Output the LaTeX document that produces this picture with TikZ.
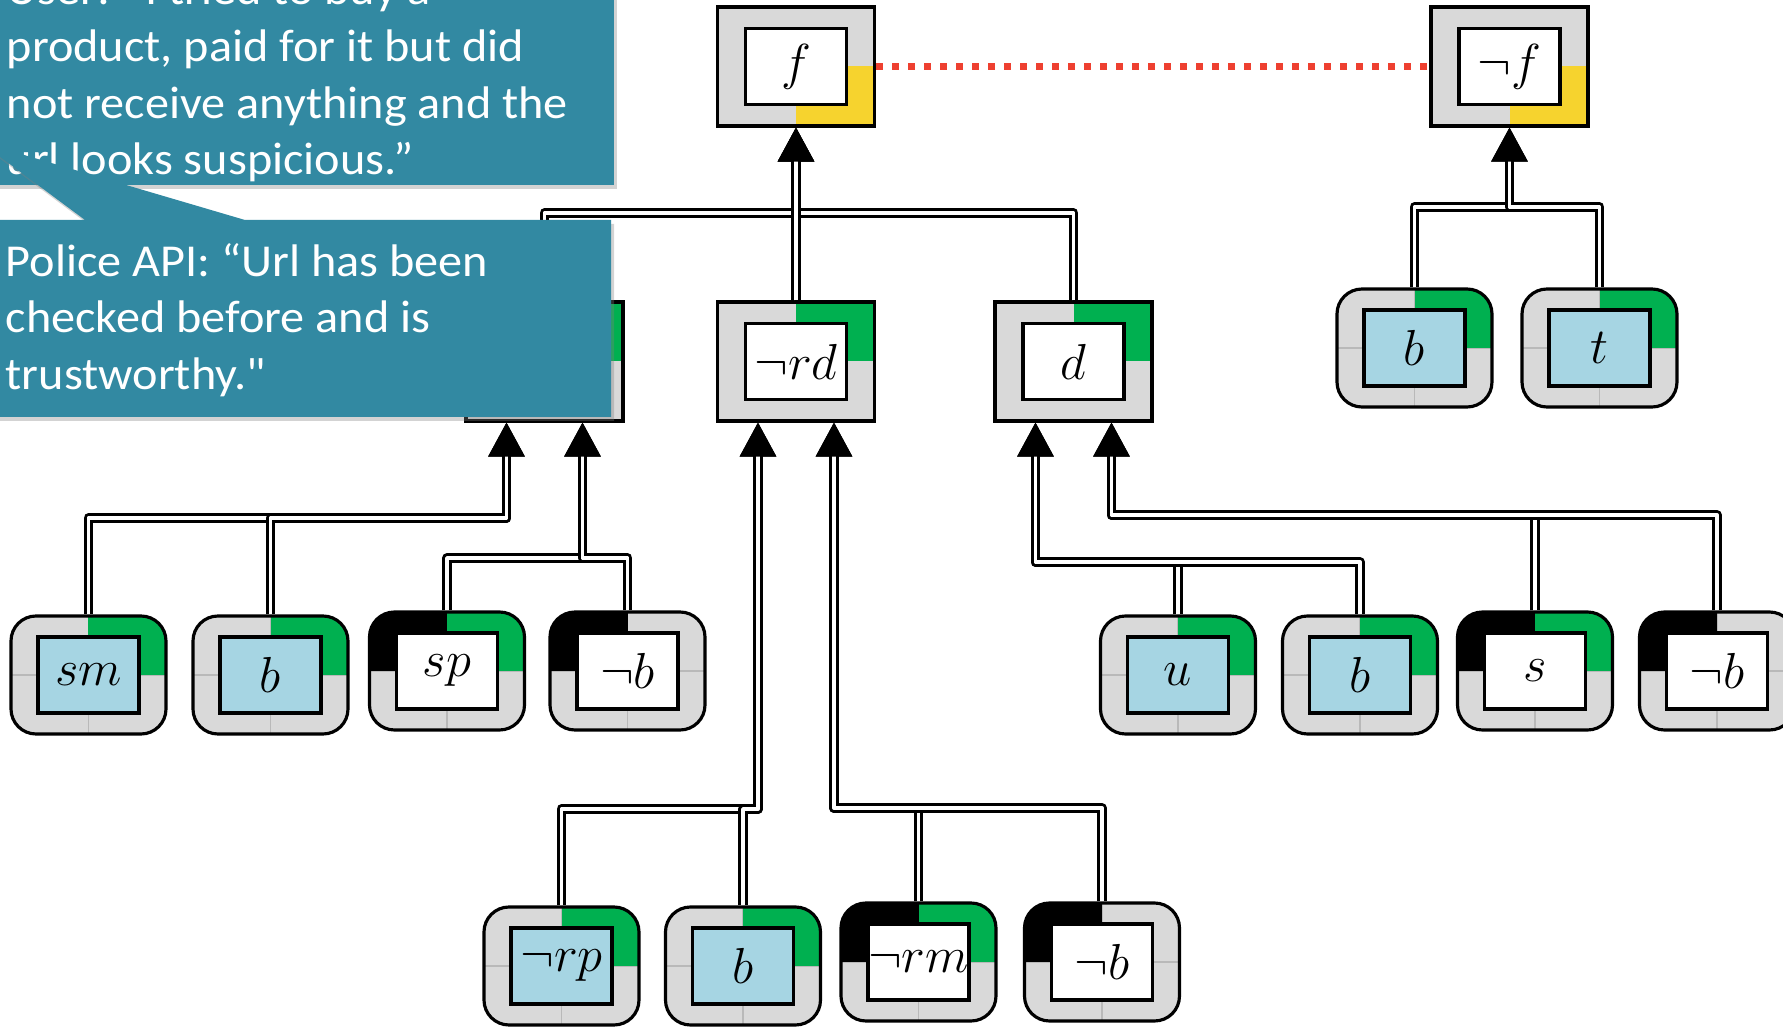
\documentclass[tikz,border=0pt]{standalone}
\usepackage{fontspec}
\newfontfamily\callfont{Carlito}[FakeStretch=1.056]
\usetikzlibrary{arrows.meta,shadows}

\definecolor{boxgray}{RGB}{217,217,217}
\definecolor{okgreen}{RGB}{0,176,80}
\definecolor{warnyellow}{RGB}{246,211,46}
\definecolor{leafblue}{RGB}{166,213,227}
\definecolor{calloutteal}{RGB}{50,137,162}
\definecolor{clashred}{RGB}{238,64,48}

\tikzset{
  sepline/.style={draw=none},
  frame/.style={draw=black, line width=0.9pt, fill=boxgray, inner sep=0pt,
    minimum width=1.57cm, minimum height=1.19cm},
  leafframe/.style={frame, rounded corners=0.25cm, minimum width=1.55cm, minimum height=1.18cm,
    sepline/.style={gray!55, line width=0.3pt}},
  quads/.style n args={3}{path picture={
      \draw[sepline, sharp corners] (path picture bounding box.north) -- (path picture bounding box.south)
        (path picture bounding box.west) -- (path picture bounding box.east);
      \path[fill=#1, sharp corners] (path picture bounding box.center) rectangle (path picture bounding box.north west);
      \path[fill=#2, sharp corners] (path picture bounding box.center) rectangle (path picture bounding box.north east);
      \path[fill=#3, sharp corners] (path picture bounding box.center) rectangle (path picture bounding box.south east);}},
  inbox/.style={draw=black, line width=0.9pt, fill=white, inner sep=0pt,
    minimum width=1.01cm, minimum height=0.76cm, font=\fontsize{14.4}{17}\selectfont},
  leafin/.style={inbox, fill=leafblue},
  link/.style={draw=black, line width=0.85pt, double=white, double distance=1.1pt,
    line join=round, -{Triangle[width=0.36cm,length=0.34cm]}},
  clash/.style={draw=clashred, line width=0.07cm, dash pattern=on 0.07cm off 0.09cm},
  callout/.style={fill=calloutteal, drop shadow={opacity=0.35, shadow xshift=0.03cm, shadow yshift=-0.04cm}},
  calltext/.style={anchor=base west, inner sep=0pt, text=white, font=\callfont\fontsize{13}{16}\selectfont},
}

\begin{document}
\begin{tikzpicture}
        \useasboundingbox (0,0) rectangle (17.83,10.27);
        % conclusions
        \node at (7.96,9.605) [frame,quads={none}{none}{warnyellow}] (f) {};
        \node at (f) [inbox] (f-in) {$f$};
        \node at (15.095,9.605) [frame,quads={none}{none}{warnyellow}] (nf) {};
        \node at (nf) [inbox] (nf-in) {$\neg f$};
        % rules
        \node at (5.445,6.655) [frame,quads={none}{okgreen}{none}] (lb) {};
        \node at (lb) [inbox] (lb-in) {};
        \node at (7.96,6.655) [frame,quads={none}{okgreen}{none}] (nrd) {};
        \node at (nrd) [inbox] (nrd-in) {$\neg rd$};
        \node at (10.735,6.655) [frame,quads={none}{okgreen}{none}] (d) {};
        \node at (d) [inbox] (d-in) {$d$};
        % facts
        \node at (14.145,6.79) [leafframe,quads={none}{okgreen}{none}] (b2) {};
        \node at (b2) [leafin] (b2-in) {$b$};
        \node at (15.995,6.79) [leafframe,quads={none}{okgreen}{none}] (t) {};
        \node at (t) [leafin] (t-in) {$t$};
        \node at (0.885,3.52) [leafframe,quads={none}{okgreen}{none}] (sm) {};
        \node at (sm) [leafin] (sm-in) {$sm$};
        \node at (2.705,3.52) [leafframe,quads={none}{okgreen}{none}] (b1) {};
        \node at (b1) [leafin] (b1-in) {$b$};
        \node at (4.47,3.56) [leafframe,quads={black}{okgreen}{none}] (sp) {};
        \node at (sp) [inbox] (sp-in) {$sp$};
        \node at (6.275,3.56) [leafframe,quads={black}{none}{none}] (nb1) {};
        \node at (nb1) [inbox] (nb1-in) {$\neg b$};
        \node at (11.78,3.52) [leafframe,quads={none}{okgreen}{none}] (u) {};
        \node at (u) [leafin] (u-in) {$u$};
        \node at (13.60,3.52) [leafframe,quads={none}{okgreen}{none}] (b3) {};
        \node at (b3) [leafin] (b3-in) {$b$};
        \node at (15.35,3.56) [leafframe,quads={black}{okgreen}{none}] (s) {};
        \node at (s) [inbox] (s-in) {$s$};
        \node at (17.17,3.56) [leafframe,quads={black}{none}{none}] (nb2) {};
        \node at (nb2) [inbox] (nb2-in) {$\neg b$};
        \node at (5.615,0.61) [leafframe,quads={none}{okgreen}{none}] (nrp) {};
        \node at (nrp) [leafin] (nrp-in) {$\neg rp$};
        \node at (7.43,0.61) [leafframe,quads={none}{okgreen}{none}] (b4) {};
        \node at (b4) [leafin] (b4-in) {$b$};
        \node at (9.185,0.65) [leafframe,quads={black}{okgreen}{none}] (nrm) {};
        \node at (nrm) [inbox] (nrm-in) {$\neg rm$};
        \node at (11.02,0.65) [leafframe,quads={black}{none}{none}] (nb3) {};
        \node at (nb3) [inbox] (nb3-in) {$\neg b$};
        % levels of the joins
        \coordinate (top) at (0,8.14);
        \coordinate (negtop) at (0,8.20);
        \coordinate (lbl) at (0,5.09);
        \coordinate (lbr) at (0,4.69);
        \coordinate (dl) at (0,4.65);
        \coordinate (dr) at (0,5.12);
        \coordinate (rdl) at (0,2.18);
        \coordinate (rdr) at (0,2.19);
        % support
        \draw[link] (lb.north) -- (lb.north |- top) -| (f.south);
        \draw[link] (d.north) -- (d.north |- top) -| (f.south);
        \draw[link] (nrd.north) -- (f.south);
        \draw[link] (b2.north) -- (b2.north |- negtop) -| (nf.south);
        \draw[link] (t.north) -- (t.north |- negtop) -| (nf.south);
        \draw[link] (sm.north) -- (sm.north |- lbl) -| ([xshift=-0.38cm]lb.south);
        \draw[link] (b1.north) -- (b1.north |- lbl) -| ([xshift=-0.38cm]lb.south);
        \draw[link] (sp.north) -- (sp.north |- lbr) -| ([xshift=0.38cm]lb.south);
        \draw[link] (nb1.north) -- (nb1.north |- lbr) -| ([xshift=0.38cm]lb.south);
        \draw[link] (u.north) -- (u.north |- dl) -| ([xshift=-0.38cm]d.south);
        \draw[link] (b3.north) -- (b3.north |- dl) -| ([xshift=-0.38cm]d.south);
        \draw[link] (s.north) -- (s.north |- dr) -| ([xshift=0.38cm]d.south);
        \draw[link] (nb2.north) -- (nb2.north |- dr) -| ([xshift=0.38cm]d.south);
        \draw[link] (nrp.north) -- (nrp.north |- rdl) -| ([xshift=-0.38cm]nrd.south);
        \draw[link] (b4.north) -- (b4.north |- rdl) -| ([xshift=-0.38cm]nrd.south);
        \draw[link] (nrm.north) -- (nrm.north |- rdr) -| ([xshift=0.38cm]nrd.south);
        \draw[link] (nb3.north) -- (nb3.north |- rdr) -| ([xshift=0.38cm]nrd.south);
        % conflict
        \draw[clash] (f.east) -- (nf.west);
        % callouts
        \fill[callout] (-0.1,8.42) rectangle (6.14,10.4);
        \node at (0.06,10.22) [calltext] (user1) {User: “I tried to buy a};
        \node at (0.06,9.65) [calltext] (user2) {product, paid for it but did};
        \node at (0.06,9.08) [calltext] (user3) {not receive anything and the};
        \node at (0.06,8.52) [calltext] (user4) {url looks suspicious.”};
        \fill[callout] (-0.1,8.07) -- (0.85,8.07) -- (-0.2,8.85) -- (2.45,8.07) -- (6.11,8.07)
          -- (6.11,6.10) -- (-0.1,6.10) -- cycle;
        \node at (0.05,7.50) [calltext] (police1) {Police API: “Url has been};
        \node at (0.05,6.94) [calltext] (police2) {checked before and is};
        \node at (0.05,6.37) [calltext] (police3) {trustworthy."};
\end{tikzpicture}
\end{document}
